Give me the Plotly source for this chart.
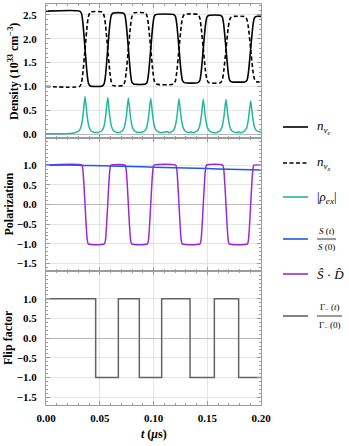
import plotly.graph_objects as go
from plotly.subplots import make_subplots

# ---------------- data ----------------
T_DENS = [0.0,
          0.0313, 0.0330, 0.0343, 0.0363, 0.0383, 0.0396, 0.0413,
          0.0524, 0.0541, 0.0554, 0.0574, 0.0594, 0.0607, 0.0624,
          0.0716, 0.0733, 0.0746, 0.0766, 0.0786, 0.0799, 0.0816,
          0.0924, 0.0941, 0.0954, 0.0974, 0.0994, 0.1007, 0.1024,
          0.1187, 0.1204, 0.1217, 0.1237, 0.1257, 0.1270, 0.1287,
          0.1413, 0.1430, 0.1443, 0.1463, 0.1483, 0.1496, 0.1513,
          0.1624, 0.1641, 0.1654, 0.1674, 0.1694, 0.1707, 0.1724,
          0.1854, 0.1871, 0.1884, 0.1904, 0.1924, 0.1937, 0.1954,
          0.2]
N_NUE = [2.58,
         2.58, 2.53, 2.34, 1.80, 1.25, 1.06, 1.01,
         1.01, 1.06, 1.24, 1.78, 2.31, 2.49, 2.54,
         2.54, 2.50, 2.32, 1.80, 1.27, 1.09, 1.05,
         1.05, 1.09, 1.27, 1.78, 2.29, 2.47, 2.51,
         2.51, 2.47, 2.30, 1.80, 1.29, 1.12, 1.08,
         1.08, 1.12, 1.29, 1.79, 2.28, 2.45, 2.49,
         2.49, 2.45, 2.28, 1.80, 1.31, 1.14, 1.10,
         1.10, 1.14, 1.31, 1.79, 2.26, 2.43, 2.47,
         2.47]
N_NUX = [1.00,
         1.00, 1.08, 1.28, 1.78, 2.28, 2.48, 2.56,
         2.56, 2.48, 2.28, 1.79, 1.30, 1.10, 1.02,
         1.02, 1.10, 1.29, 1.78, 2.27, 2.46, 2.54,
         2.54, 2.47, 2.27, 1.80, 1.32, 1.12, 1.05,
         1.05, 1.12, 1.31, 1.78, 2.25, 2.44, 2.51,
         2.51, 2.44, 2.25, 1.80, 1.34, 1.15, 1.08,
         1.08, 1.15, 1.33, 1.77, 2.21, 2.39, 2.46,
         2.46, 2.39, 2.22, 1.78, 1.34, 1.17, 1.10,
         1.10]

T_RHO = [0.0, 0.015, 0.022,
         0.0268, 0.0308, 0.0328, 0.0345, 0.0363, 0.0381, 0.0398, 0.0418, 0.0458,
         0.0468,
         0.0479, 0.0519, 0.0539, 0.0556, 0.0574, 0.0592, 0.0609, 0.0629, 0.0669,
         0.0671, 0.0711, 0.0731, 0.0748, 0.0766, 0.0784, 0.0801, 0.0821, 0.0861,
         0.0870,
         0.0879, 0.0919, 0.0939, 0.0956, 0.0974, 0.0992, 0.1009, 0.1029, 0.1069,
         0.1100, 0.1130,
         0.1142, 0.1182, 0.1202, 0.1219, 0.1237, 0.1255, 0.1272, 0.1292, 0.1332,
         0.1350,
         0.1368, 0.1408, 0.1428, 0.1445, 0.1463, 0.1481, 0.1498, 0.1518, 0.1558,
         0.1579, 0.1619, 0.1639, 0.1656, 0.1674, 0.1692, 0.1709, 0.1729, 0.1769,
         0.1789,
         0.1809, 0.1849, 0.1869, 0.1886, 0.1904, 0.1922, 0.1939, 0.1959, 0.2]
RHO_EX = [0.005, 0.005, 0.01,
          0.03, 0.07, 0.17, 0.41, 0.79, 0.41, 0.17, 0.07, 0.03,
          0.04,
          0.03, 0.07, 0.16, 0.40, 0.77, 0.40, 0.16, 0.07, 0.03,
          0.03, 0.07, 0.16, 0.39, 0.76, 0.39, 0.16, 0.07, 0.03,
          0.045,
          0.03, 0.07, 0.16, 0.39, 0.75, 0.39, 0.16, 0.07, 0.03,
          0.04, 0.05,
          0.03, 0.07, 0.16, 0.38, 0.74, 0.38, 0.16, 0.07, 0.03,
          0.045,
          0.03, 0.07, 0.16, 0.38, 0.73, 0.38, 0.16, 0.07, 0.03,
          0.03, 0.07, 0.16, 0.38, 0.73, 0.38, 0.16, 0.07, 0.03,
          0.045,
          0.03, 0.07, 0.15, 0.36, 0.70, 0.36, 0.15, 0.07, 0.04]

T_S = [0.0, 0.03, 0.04, 0.06, 0.08, 0.10, 0.12, 0.14, 0.16, 0.18, 0.2]
S_RATIO = [1.0, 1.0, 0.99, 0.98, 0.965, 0.95, 0.935, 0.92, 0.905, 0.89, 0.875]

T_SD = [0.0,
        0.0333, 0.0343, 0.0353, 0.0363, 0.0373, 0.0383, 0.0393,
        0.0544, 0.0554, 0.0564, 0.0574, 0.0584, 0.0594, 0.0604,
        0.0736, 0.0746, 0.0756, 0.0766, 0.0776, 0.0786, 0.0796,
        0.0944, 0.0954, 0.0964, 0.0974, 0.0984, 0.0994, 0.1004,
        0.1207, 0.1217, 0.1227, 0.1237, 0.1247, 0.1257, 0.1267,
        0.1433, 0.1443, 0.1453, 0.1463, 0.1473, 0.1483, 0.1493,
        0.1644, 0.1654, 0.1664, 0.1674, 0.1684, 0.1694, 0.1704,
        0.1874, 0.1884, 0.1894, 0.1904, 0.1914, 0.1924, 0.1934,
        0.2]
SD = [1,
      1, 0.88, 0.5, 0, -0.5, -0.88, -1,
      -1, -0.88, -0.5, 0, 0.5, 0.88, 1,
      1, 0.88, 0.5, 0, -0.5, -0.88, -1,
      -1, -0.88, -0.5, 0, 0.5, 0.88, 1,
      1, 0.88, 0.5, 0, -0.5, -0.88, -1,
      -1, -0.88, -0.5, 0, 0.5, 0.88, 1,
      1, 0.88, 0.5, 0, -0.5, -0.88, -1,
      -1, -0.88, -0.5, 0, 0.5, 0.88, 1,
      1]

T_FLIP = [0.0, 0.0462, 0.0673, 0.0868, 0.1076, 0.1340, 0.1566, 0.1792, 0.2]
FLIP = [1, -1, 1, -1, 1, -1, 1, -1, -1]

X_TICKS = [0.0, 0.05, 0.10, 0.15, 0.20]
DENS_TICKS = [0.0, 0.5, 1.0, 1.5, 2.0, 2.5]
POL_TICKS = [-1.5, -1.0, -0.5, 0.0, 0.5, 1.0]

# ---------------- styles ----------------
C_TEAL = "#22b89c"
C_BLUE = "#2157ee"
C_PURPLE = "#9a2ad4"
C_GRAY = "#636363"
SERIF = "Liberation Serif"
FRAME = "#9c9c9c"
GRID = "#e4e4e4"

fig = make_subplots(rows=3, cols=1, shared_xaxes=True, vertical_spacing=0)

fig.add_trace(go.Scatter(x=T_DENS, y=N_NUE, mode="lines",
                         line=dict(color="black", width=1.6, shape="spline", smoothing=0.6)), row=1, col=1)
fig.add_trace(go.Scatter(x=T_DENS, y=N_NUX, mode="lines",
                         line=dict(color="black", width=1.6, dash="4px,2.5px", shape="spline", smoothing=0.6)), row=1, col=1)
fig.add_trace(go.Scatter(x=T_RHO, y=RHO_EX, mode="lines",
                         line=dict(color=C_TEAL, width=1.5, shape="spline", smoothing=0.6)), row=1, col=1)
fig.add_trace(go.Scatter(x=T_SD, y=SD, mode="lines",
                         line=dict(color=C_PURPLE, width=1.5, shape="spline", smoothing=0.6)), row=2, col=1)
fig.add_trace(go.Scatter(x=T_S, y=S_RATIO, mode="lines",
                         line=dict(color=C_BLUE, width=1.5, shape="spline")), row=2, col=1)
fig.add_trace(go.Scatter(x=T_FLIP, y=FLIP, mode="lines",
                         line=dict(color=C_GRAY, width=1.5, shape="hv")), row=3, col=1)

tickfont = dict(family=SERIF, size=11, color="black", weight="bold")

for r in (1, 2, 3):
    fig.update_xaxes(row=r, col=1, range=[0, 0.2], tickvals=X_TICKS,
                     tickformat=".2f", showticklabels=(r == 3),
                     ticks="inside", ticklen=4, tickcolor=FRAME,
                     minor=dict(ticks="inside", ticklen=2, dtick=0.01, tickcolor=FRAME, showgrid=False),
                     showline=True, linecolor=FRAME, linewidth=1, mirror="ticks",
                     showgrid=True, gridcolor=GRID, gridwidth=1, zeroline=False,
                     tickfont=tickfont, ticklabelstandoff=3)

fig.update_yaxes(row=1, col=1, range=[-0.075, 2.73], tickvals=DENS_TICKS, tickformat=".1f")
fig.update_yaxes(row=2, col=1, range=[-1.7, 1.7], tickvals=POL_TICKS, tickformat=".1f")
fig.update_yaxes(row=3, col=1, range=[-1.7, 1.7], tickvals=POL_TICKS, tickformat=".1f")
for r in (1, 2, 3):
    fig.update_yaxes(row=r, col=1, ticks="inside", ticklen=4, tickcolor=FRAME,
                     minor=dict(ticks="inside", ticklen=2, dtick=0.1, tickcolor=FRAME, showgrid=False),
                     showline=True, linecolor=FRAME, linewidth=1, mirror="ticks",
                     showgrid=True, gridcolor=GRID, gridwidth=1,
                     zeroline=True, zerolinecolor="#b9b9b9", zerolinewidth=1,
                     tickfont=tickfont, ticklabelstandoff=6)

# axis titles
title_font = dict(family=SERIF, size=12, color="black", weight="bold")
annotations = [
    dict(x=-0.1535, y=0.8329, text="Density (10<sup>33</sup> cm<sup>−3</sup>)", textangle=-90),
    dict(x=-0.1767, y=0.5, text="Polarization", textangle=-90),
    dict(x=-0.1767, y=0.167, text="Flip factor", textangle=-90),
    dict(x=0.5, y=-0.0723, text="<i>t</i> (<i>μ</i>s)", textangle=0),
]
for a in annotations:
    fig.add_annotation(xref="paper", yref="paper", xanchor="center", yanchor="middle",
                       showarrow=False, font=title_font, **a)

# manual legend
def px_x(px):
    return (px - 46) / 215.0

def px_y(py):
    return (405 - py) / 401.0

leg_font = dict(family=SERIF, size=13, color="black")
small_font = dict(family=SERIF, size=9, color="black")
entries = [
    (127, dict(color="black", width=1.6), "<i>n</i><sub><i>ν</i><sub><i>e</i></sub></sub>"),
    (163, dict(color="black", width=1.6, dash="4px,2.5px"), "<i>n</i><sub><i>ν</i><sub><i>x</i></sub></sub>"),
    (197, dict(color=C_TEAL, width=1.6), "|<i>ρ</i><sub><i>ex</i></sub>|"),
    (239, dict(color=C_BLUE, width=1.6), None),
    (274, dict(color=C_PURPLE, width=1.6), "<i>Ŝ</i> · <i>D̂</i>"),
    (316, dict(color=C_GRAY, width=1.6), None),
]
for py, ln, txt in entries:
    fig.add_shape(type="line", xref="paper", yref="paper",
                  x0=px_x(283), x1=px_x(308), y0=px_y(py), y1=px_y(py), line=ln)
    if txt:
        fig.add_annotation(xref="paper", yref="paper", x=px_x(315), y=px_y(py),
                           xanchor="left", yanchor="middle", showarrow=False,
                           text=txt, font=leg_font)

# fractions
fracs = [
    (239, 317, 336, "<i>S</i> (<i>t</i>)", "<i>S</i> (0)"),
    (316, 317, 342, "Γ<sub>−</sub> (<i>t</i>)", "Γ<sub>−</sub> (0)"),
]
for py, xa, xb, num, den in fracs:
    fig.add_shape(type="line", xref="paper", yref="paper",
                  x0=px_x(xa), x1=px_x(xb), y0=px_y(py), y1=px_y(py),
                  line=dict(color="black", width=0.8))
    xc = px_x((xa + xb) / 2)
    fig.add_annotation(xref="paper", yref="paper", x=xc, y=px_y(py - 1.5),
                       xanchor="center", yanchor="bottom", showarrow=False,
                       text=num, font=small_font)
    fig.add_annotation(xref="paper", yref="paper", x=xc, y=px_y(py + 1.5),
                       xanchor="center", yanchor="top", showarrow=False,
                       text=den, font=small_font)

fig.update_layout(width=349, height=446, showlegend=False,
                  margin=dict(l=46, r=88, t=4, b=41),
                  paper_bgcolor="white", plot_bgcolor="white",
                  font=dict(family=SERIF, color="black"))

fig.write_html("out.html", config={"displayModeBar": False},
               post_script="document.body.style.margin='0px';document.body.style.overflow='hidden';")
